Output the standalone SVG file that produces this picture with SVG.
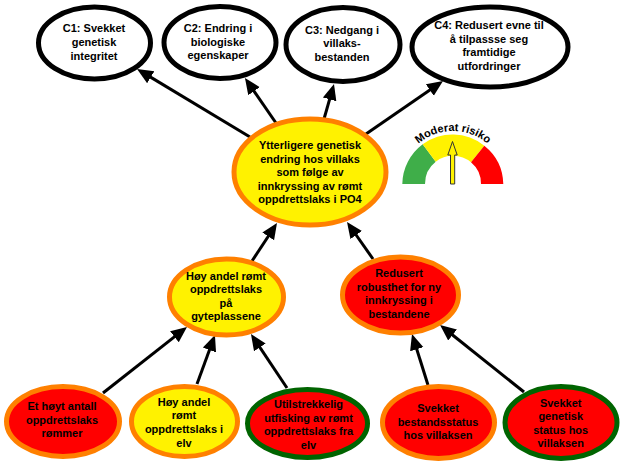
<svg xmlns="http://www.w3.org/2000/svg" width="624" height="466" viewBox="0 0 624 466">
<style>
text{font-family:"Liberation Sans",Arial,sans-serif;font-size:11px;font-weight:bold;fill:#000;text-anchor:middle}
.c{fill:#fff;stroke:#000;stroke-width:5}
.y{fill:#fff200;stroke:#ff8000;stroke-width:5}
.r{fill:#f00;stroke:#ff8000;stroke-width:5}
.g{fill:#f00;stroke:#006400;stroke-width:5}
#connectors line{stroke:#000;stroke-width:3;marker-end:url(#head)}
</style>
<defs>
<marker id="head" markerUnits="userSpaceOnUse" markerWidth="18" markerHeight="16" refX="8" refY="8" orient="auto">
<path d="M0,1 L16,8 L0,15 Z" fill="#000"/>
</marker>
<path id="arc" d="M400,184 A53,53 0 0 1 506,184"/>
</defs>
<rect width="624" height="466" fill="#fff"/>
<g id="connectors">
<line x1="250" y1="137" x2="143.9" y2="73.1"/>
<line x1="276" y1="123" x2="249.5" y2="84.6"/>
<line x1="324" y1="119" x2="331.8" y2="91.7"/>
<line x1="366" y1="134" x2="436.4" y2="85.5"/>
<line x1="252" y1="261" x2="272.6" y2="229.7"/>
<line x1="373" y1="259" x2="351.6" y2="228.5"/>
<line x1="103" y1="393" x2="180.7" y2="331.9"/>
<line x1="197" y1="384" x2="212.2" y2="342.5"/>
<line x1="287" y1="388" x2="255.4" y2="340.7"/>
<line x1="428" y1="385" x2="414.4" y2="341.6"/>
<line x1="524" y1="392" x2="446.3" y2="330"/>
</g>
<g id="c1"><ellipse class="c" cx="94.5" cy="43" rx="56" ry="36"/>
<text x="94" y="32">C1: Svekket</text><text x="94" y="46">genetisk</text><text x="94" y="60">integritet</text></g>
<g id="c2"><ellipse class="c" cx="220" cy="42.5" rx="56" ry="36"/>
<text x="218" y="32">C2: Endring i</text><text x="218" y="45.5">biologiske</text><text x="218" y="59">egenskaper</text></g>
<g id="c3"><ellipse class="c" cx="343" cy="44.5" rx="57" ry="37"/>
<text x="342" y="34">C3: Nedgang i</text><text x="342" y="47">villaks-</text><text x="342" y="61">bestanden</text></g>
<g id="c4"><ellipse class="c" cx="490" cy="47" rx="78" ry="40"/>
<text x="489" y="29">C4: Redusert evne til</text><text x="489" y="43">å tilpassse seg</text><text x="489" y="56">framtidige</text><text x="489" y="70">utfordringer</text></g>
<g id="central"><ellipse class="y" cx="310" cy="172" rx="76" ry="53"/>
<text x="310" y="149">Ytterligere genetisk</text><text x="310" y="162.5">endring hos villaks</text><text x="310" y="176">som følge av</text><text x="310" y="189.5">innkryssing av rømt</text><text x="310" y="203">oppdrettslaks i PO4</text></g>
<g id="gauge">
<path d="M402.3,184 A50.5,50.5 0 0 1 422.7,144.3 L435.7,161.7 A28,28 0 0 0 425,184 Z" fill="#3fae49"/>
<path d="M422.7,144.3 A50.5,50.5 0 0 1 484.3,145.7 L471,162.3 A28,28 0 0 0 435.7,161.7 Z" fill="#fff200"/>
<path d="M484.3,145.7 A50.5,50.5 0 0 1 503.3,184 L481,184 A28,28 0 0 0 471,162.3 Z" fill="#f00"/>
<path d="M452.5,141.5 L457.2,155 L454.7,155 L454.7,184 L450.5,184 L450.5,155 L447.8,155 Z" fill="#fff200" stroke="#333" stroke-width="1"/>
<text><textPath href="#arc" startOffset="50%">Moderat risiko</textPath></text>
</g>
<g id="mid-left"><ellipse class="y" cx="226.5" cy="297" rx="57" ry="38"/>
<text x="226" y="280">Høy andel rømt</text><text x="226" y="293">oppdrettslaks</text><text x="226" y="307">på</text><text x="226" y="320">gyteplassene</text></g>
<g id="mid-right"><ellipse class="r" cx="400.5" cy="295" rx="58" ry="38"/>
<text x="399" y="277">Redusert</text><text x="399" y="290.5">robusthet for ny</text><text x="399" y="304">innkryssing i</text><text x="399" y="317.5">bestandene</text></g>
<g id="b1"><ellipse class="r" cx="63" cy="421.5" rx="56.5" ry="35"/>
<text x="62" y="410">Et høyt antall</text><text x="62" y="424">oppdrettslaks</text><text x="62" y="437">rømmer</text></g>
<g id="b2"><ellipse class="y" cx="184.5" cy="421.5" rx="53" ry="35"/>
<text x="184" y="406">Høy andel</text><text x="184" y="419">rømt</text><text x="184" y="433">oppdrettslaks i</text><text x="184" y="447">elv</text></g>
<g id="b3"><ellipse class="g" cx="307.5" cy="423.5" rx="60" ry="34"/>
<text x="308.5" y="408">Utilstrekkelig</text><text x="308.5" y="421.5">utfisking av rømt</text><text x="308.5" y="435">oppdrettslaks fra</text><text x="308.5" y="448.5">elv</text></g>
<g id="b4"><ellipse class="r" cx="438.5" cy="422.5" rx="56" ry="36"/>
<text x="438" y="412">Svekket</text><text x="438" y="425.5">bestandsstatus</text><text x="438" y="439">hos villaksen</text></g>
<g id="b5"><ellipse class="g" cx="561" cy="422.5" rx="56" ry="36"/>
<text x="560.7" y="407">Svekket</text><text x="560.7" y="420">genetisk</text><text x="560.7" y="434">status hos</text><text x="560.7" y="447">villaksen</text></g>
</svg>
